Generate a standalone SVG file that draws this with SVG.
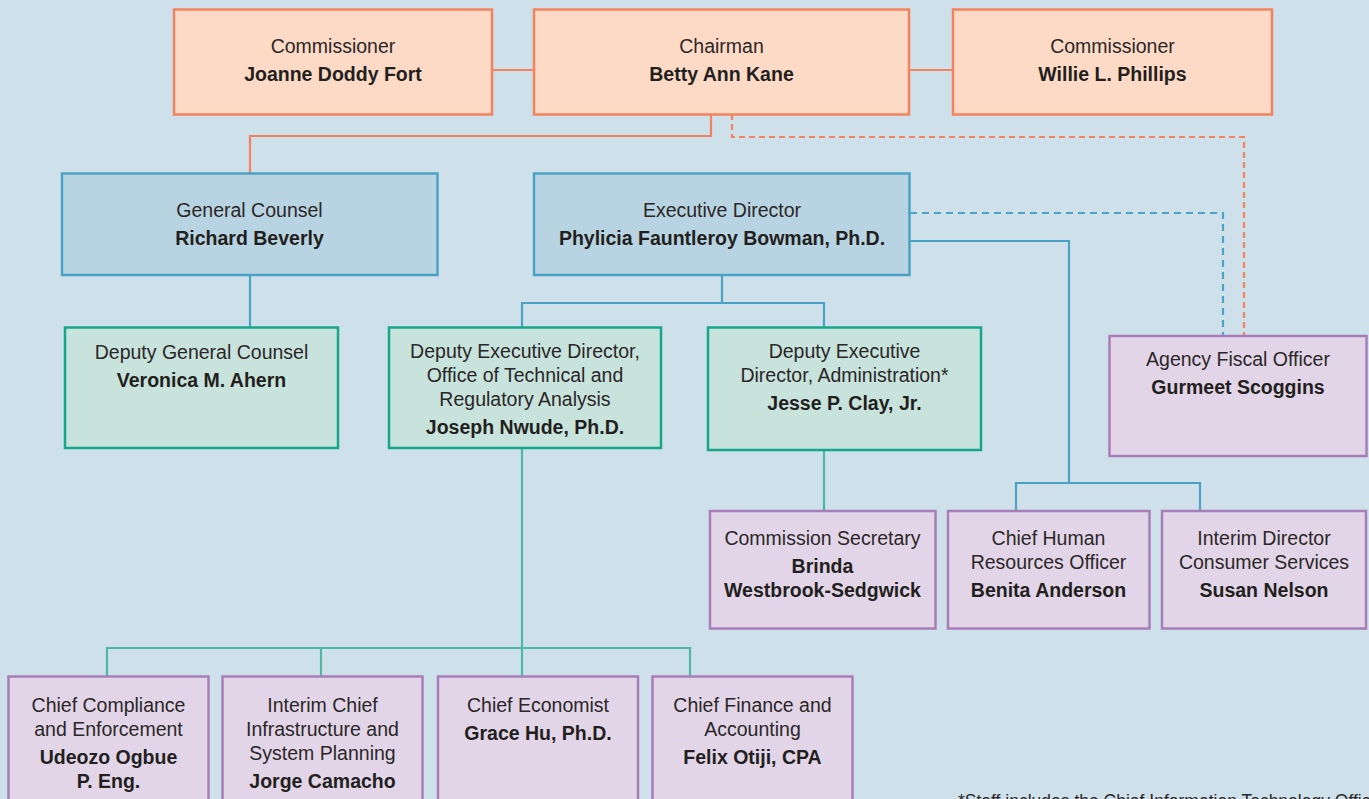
<svg xmlns="http://www.w3.org/2000/svg" width="1369" height="799" viewBox="0 0 1369 799">
<style>
.t{font-family:"Liberation Sans",Arial,sans-serif;font-size:19.5px;fill:#2b2728;text-anchor:middle}
.b{font-weight:bold;fill:#231f20}
.or{fill:#fcdac6;stroke:#f5825e;stroke-width:2.5}
.bl{fill:#b8d4e2;stroke:#4ba2c4;stroke-width:2.5}
.tl{fill:#c8e2dc;stroke:#18a68b;stroke-width:2.5}
.pu{fill:#e2d5e7;stroke:#a87eb9;stroke-width:2.5}
.c{fill:none;stroke-width:2.2}
.co{stroke:#f5825e}
.cb{stroke:#4ba2c4}
.ct{stroke:#4fb8a1}
.note{font-family:"Liberation Sans",Arial,sans-serif;font-size:17.5px;fill:#2b2728}
</style>
<rect width="1369" height="799" fill="#cee0ea"/>
<g id="connectors">
<path class="c co" d="M492 70H534M909 70H953"/>
<path class="c co" d="M711 114V136H250V173"/>
<path class="c co" d="M732 114V137H1244V336" stroke-dasharray="6 4"/>
<path class="c cb" d="M910 213H1223V336" stroke-dasharray="7 5"/>
<path class="c cb" d="M250 275V327"/>
<path class="c cb" d="M722 275V303M522 327V303H824V327"/>
<path class="c cb" d="M910 241H1069V483M1016 511V483H1200V511"/>
<path class="c ct" d="M824 450V511"/>
<path class="c ct" d="M522 448V648M107 676V648H690V676M321 648V676M522 648V676"/>
</g>
<g id="n-fort"><rect class="or" x="174" y="9.5" width="318" height="105"/><text class="t" x="333" y="53">Commissioner</text><text class="t b" x="333" y="81">Joanne Doddy Fort</text></g>
<g id="n-kane"><rect class="or" x="534" y="9.5" width="375" height="105"/><text class="t" x="721.5" y="53">Chairman</text><text class="t b" x="721.5" y="81">Betty Ann Kane</text></g>
<g id="n-phillips"><rect class="or" x="953" y="9.5" width="319" height="105"/><text class="t" x="1112.5" y="53">Commissioner</text><text class="t b" x="1112.5" y="81">Willie L. Phillips</text></g>
<g id="n-gc"><rect class="bl" x="62" y="173.5" width="375.5" height="101.5"/><text class="t" x="249.5" y="217">General Counsel</text><text class="t b" x="249.5" y="245">Richard Beverly</text></g>
<g id="n-ed"><rect class="bl" x="534" y="173.5" width="375.5" height="101.5"/><text class="t" x="722" y="217">Executive Director</text><text class="t b" x="722" y="245">Phylicia Fauntleroy Bowman, Ph.D.</text></g>
<g id="n-dgc"><rect class="tl" x="65" y="327.5" width="273" height="120.5"/><text class="t" x="201.5" y="359">Deputy General Counsel</text><text class="t b" x="201.5" y="387">Veronica M. Ahern</text></g>
<g id="n-otra"><rect class="tl" x="389" y="327.5" width="272" height="120.5"/><text class="t" x="525" y="358">Deputy Executive Director,</text><text class="t" x="525" y="382">Office of Technical and</text><text class="t" x="525" y="406">Regulatory Analysis</text><text class="t b" x="525" y="434">Joseph Nwude, Ph.D.</text></g>
<g id="n-admin"><rect class="tl" x="708" y="327.5" width="273" height="122.5"/><text class="t" x="844.5" y="358">Deputy Executive</text><text class="t" x="844.5" y="382">Director, Administration*</text><text class="t b" x="844.5" y="410">Jesse P. Clay, Jr.</text></g>
<g id="n-fiscal"><rect class="pu" x="1109.5" y="336" width="257" height="120"/><text class="t" x="1238" y="366">Agency Fiscal Officer</text><text class="t b" x="1238" y="394">Gurmeet Scoggins</text></g>
<g id="n-secretary"><rect class="pu" x="710" y="511" width="225.5" height="117.5"/><text class="t" x="822.5" y="545">Commission Secretary</text><text class="t b" x="822.5" y="573">Brinda</text><text class="t b" x="822.5" y="597">Westbrook-Sedgwick</text></g>
<g id="n-hr"><rect class="pu" x="948" y="511" width="201.5" height="117.5"/><text class="t" x="1048.5" y="545">Chief Human</text><text class="t" x="1048.5" y="569">Resources Officer</text><text class="t b" x="1048.5" y="597">Benita Anderson</text></g>
<g id="n-consumer"><rect class="pu" x="1162" y="511" width="204" height="117.5"/><text class="t" x="1264" y="545">Interim Director</text><text class="t" x="1264" y="569">Consumer Services</text><text class="t b" x="1264" y="597">Susan Nelson</text></g>
<g id="n-compliance"><rect class="pu" x="8.5" y="676.5" width="200" height="140"/><text class="t" x="108.5" y="712">Chief Compliance</text><text class="t" x="108.5" y="736">and Enforcement</text><text class="t b" x="108.5" y="764">Udeozo Ogbue</text><text class="t b" x="108.5" y="788">P. Eng.</text></g>
<g id="n-infra"><rect class="pu" x="222.5" y="676.5" width="200" height="140"/><text class="t" x="322.5" y="712">Interim Chief</text><text class="t" x="322.5" y="736">Infrastructure and</text><text class="t" x="322.5" y="760">System Planning</text><text class="t b" x="322.5" y="788">Jorge Camacho</text></g>
<g id="n-economist"><rect class="pu" x="438" y="676.5" width="200" height="140"/><text class="t" x="538" y="712">Chief Economist</text><text class="t b" x="538" y="740">Grace Hu, Ph.D.</text></g>
<g id="n-finance"><rect class="pu" x="652.5" y="676.5" width="200" height="140"/><text class="t" x="752.5" y="712">Chief Finance and</text><text class="t" x="752.5" y="736">Accounting</text><text class="t b" x="752.5" y="764">Felix Otiji, CPA</text></g>
<text class="note" x="958" y="807">*Staff includes the Chief Information Technology Officer</text>
</svg>
